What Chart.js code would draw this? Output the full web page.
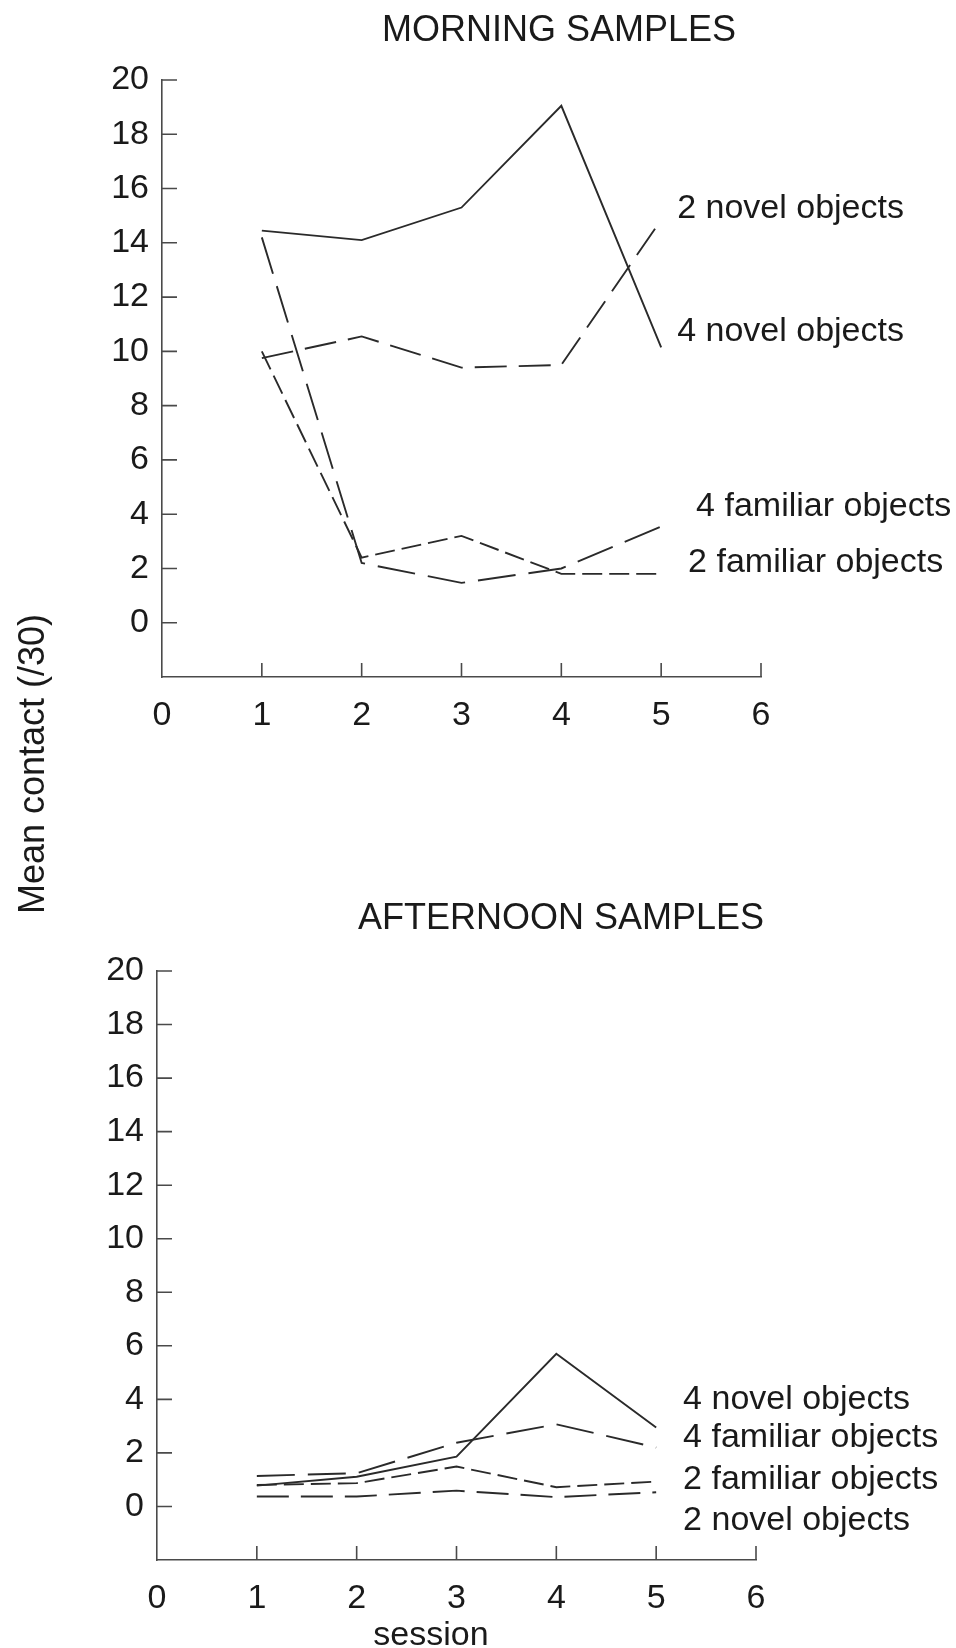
<!DOCTYPE html>
<html><head><meta charset="utf-8">
<script src="https://cdn.jsdelivr.net/npm/chart.js@4.4.1/dist/chart.umd.min.js"></script>
<style>
html,body{margin:0;padding:0;background:#fff;}
#wrap{position:relative;width:956px;height:1648px;background:#fff;}
canvas{position:absolute;left:0;top:0;}
</style></head><body>
<div id="wrap"><canvas id="am" width="956" height="1648"></canvas><canvas id="pm" width="956" height="1648"></canvas></div>
<script>
// ---- data ----
const sessions = [1, 2, 3, 4, 5];
const xTicks = [0, 1, 2, 3, 4, 5, 6];
const yTicks = [0, 2, 4, 6, 8, 10, 12, 14, 16, 18, 20];
const titles = ['MORNING SAMPLES', 'AFTERNOON SAMPLES'];
const seriesNames = ['4 novel objects', '2 novel objects', '4 familiar objects', '2 familiar objects'];
const yAxisTitle = 'Mean contact (/30)';
const xAxisTitle = 'session';

const morning4Novel     = [14.45, 14.1, 15.3, 19.05, 10.15];
const morning2Novel     = [9.75, 10.55, 9.4, 9.5, 14.85];
const morning4Familiar  = [14.2, 2.2, 1.47, 2.0, 3.55];
const morning2Familiar  = [10.0, 2.4, 3.2, 1.8, 1.8];

const afternoon4Novel    = [0.78, 1.11, 1.86, 5.7, 2.95];
const afternoon4Familiar = [1.14, 1.24, 2.38, 3.07, 2.2];
const afternoon2Familiar = [0.8, 0.87, 1.49, 0.72, 0.93];
const afternoon2Novel    = [0.37, 0.37, 0.59, 0.35, 0.53];

// ---- styles ----
const FONT = "'Liberation Sans', Arial, Helvetica, sans-serif";
const TEXT = '#1a1a1a';
const LINE = '#2a2a2a';
const AXIS = '#4a4a4a';
const dashStyle = {
  '4 novel objects': [],
  '2 novel objects': [32, 12],
  '4 familiar objects': [38, 13],
  '2 familiar objects': [20, 7]
};

function ds(name, values) {
  return {
    label: name,
    data: sessions.map((s, i) => ({x: s, y: values[i]})),
    borderColor: LINE,
    borderWidth: 1.9,
    borderDash: dashStyle[name],
    pointRadius: 0,
    fill: false,
    tension: 0
  };
}

const decor = {
  id: 'decor',
  afterDraw(chart, args, o) {
    const {ctx} = chart;
    const x = chart.scales.x, y = chart.scales.y;
    ctx.save();
    ctx.strokeStyle = AXIS;
    ctx.lineWidth = 1.6;
    ctx.beginPath();
    yTicks.forEach(v => {
      const py = y.getPixelForValue(v);
      ctx.moveTo(x.left, py); ctx.lineTo(x.left + 15, py);
    });
    xTicks.slice(1).forEach(v => {
      const px = x.getPixelForValue(v);
      ctx.moveTo(px, y.bottom); ctx.lineTo(px, y.bottom - 14);
    });
    ctx.stroke();
    ctx.fillStyle = TEXT;
    ctx.textBaseline = 'middle';
    ctx.font = o.titleSize + 'px ' + FONT;
    ctx.textAlign = 'center';
    ctx.fillText(o.title, o.titleX, o.titleY);
    ctx.font = '34px ' + FONT;
    ctx.textAlign = 'left';
    o.labels.forEach(l => ctx.fillText(l.text, x.getPixelForValue(l.x), y.getPixelForValue(l.y)));
    if (o.yTitle) {
      ctx.save();
      ctx.translate(o.yTitle.x, o.yTitle.y);
      ctx.rotate(-Math.PI / 2);
      ctx.textAlign = 'center';
      ctx.font = '36px ' + FONT;
      ctx.fillText(o.yTitle.text, 0, 0);
      ctx.restore();
    }
    if (o.xTitle) {
      ctx.textAlign = 'center';
      ctx.textBaseline = 'alphabetic';
      ctx.font = '34px ' + FONT;
      ctx.fillText(o.xTitle.text, o.xTitle.x, o.xTitle.y);
    }
    ctx.restore();
  }
};

function makeChart(id, area, datasets, decorOpts) {
  return new Chart(document.getElementById(id), {
    type: 'line',
    data: {datasets},
    options: {
      responsive: false,
      animation: false,
      layout: {padding: {left: 0, right: 956 - area.right, top: area.top, bottom: 1648 - area.bottom - 64}},
      plugins: {legend: {display: false}, tooltip: {enabled: false}, title: {display: false}, decor: decorOpts},
      scales: {
        x: {
          type: 'linear', min: 0, max: 6,
          afterBuildTicks: s => { s.ticks = xTicks.map(v => ({value: v})); },
          afterFit: s => { s.height = 64; },
          grid: {display: false, drawTicks: false},
          border: {display: true, color: AXIS, width: 1.6},
          ticks: {padding: 18, color: TEXT, font: {family: FONT, size: 34}, autoSkip: false, maxRotation: 0}
        },
        y: {
          type: 'linear', min: -2, max: 20,
          afterBuildTicks: s => { s.ticks = yTicks.map(v => ({value: v})); },
          afterFit: s => { s.width = area.left; },
          grid: {display: false, drawTicks: false},
          border: {display: true, color: AXIS, width: 1.6},
          ticks: {padding: 13, color: TEXT, font: {family: FONT, size: 34}}
        }
      }
    },
    plugins: [decor]
  });
}

makeChart('am', {left: 162, right: 761, top: 80, bottom: 677}, [
  ds(seriesNames[0], morning4Novel),
  ds(seriesNames[1], morning2Novel),
  ds(seriesNames[2], morning4Familiar),
  ds(seriesNames[3], morning2Familiar)
], {
  title: titles[0], titleX: 559, titleY: 31, titleSize: 36,
  labels: [
    {text: seriesNames[1], x: 5.16, y: 15.25},
    {text: seriesNames[0], x: 5.16, y: 10.72},
    {text: seriesNames[2], x: 5.35, y: 4.28},
    {text: seriesNames[3], x: 5.27, y: 2.2}
  ],
  yTitle: {text: yAxisTitle, x: 34, y: 764}
});

makeChart('pm', {left: 157, right: 756, top: 971, bottom: 1560}, [
  ds(seriesNames[0], afternoon4Novel),
  ds(seriesNames[2], afternoon4Familiar),
  ds(seriesNames[3], afternoon2Familiar),
  ds(seriesNames[1], afternoon2Novel)
], {
  title: titles[1], titleX: 561, titleY: 919, titleSize: 36,
  labels: [
    {text: seriesNames[0], x: 5.27, y: 4.0},
    {text: seriesNames[2], x: 5.27, y: 2.57},
    {text: seriesNames[3], x: 5.27, y: 1.0},
    {text: seriesNames[1], x: 5.27, y: -0.52}
  ],
  xTitle: {text: xAxisTitle, x: 431, y: 1645}
});
</script>
</body></html>
